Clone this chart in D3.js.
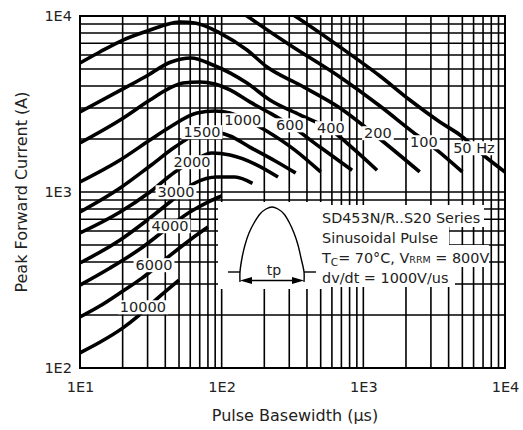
<!DOCTYPE html>
<html><head><meta charset="utf-8">
<script src="https://cdn.jsdelivr.net/npm/d3@7"></script>
<style>
body{margin:0;background:#fff;}
svg{display:block;font-family:"DejaVu Sans",sans-serif;}
</style>
</head><body>
<svg id="c" width="523" height="430"></svg>
<script>
// ---- data ----
const xTicks = [10, 100, 1000, 10000];
const xTickLabels = ["1E1", "1E2", "1E3", "1E4"];
const yTicks = [100, 1000, 10000];
const yTickLabels = ["1E2", "1E3", "1E4"];

const frequencies = ["50 Hz", "100", "200", "400", "600", "1000", "1500", "2000", "3000", "4000", "6000", "10000"];

// [pulse basewidth (us), peak forward current (A)]
const curve50    = [[219,12300],[329,10000],[684,6670],[1310,4560],[2130,3330],[3470,2500],[4810,2110],[7450,1560],[10000,1300]];
const curve100   = [[105,12300],[151,10000],[303,6840],[684,4500],[1310,3080],[2240,2190],[3310,1730],[5000,1300]];
const curve200   = [[10,5410],[13.8,6245],[20.1,7300],[31.2,8330],[39.8,8890],[50.8,9245],[64.8,9125],[97.3,8000],[151,6410],[209,5130],[357,4055],[684,3000],[1310,2000],[2500,1300]];
const curve400   = [[10,2850],[19.5,3800],[28.7,4500],[43.9,5480],[60.7,5770],[86.8,5270],[151,4160],[219,3330],[357,2740],[590,2250],[873,1730],[1250,1330]];
const curve600   = [[10,1900],[19.2,2565],[31.2,3330],[43.2,3900],[53.3,4160],[70.3,4220],[89.6,4110],[114.5,3800],[158,3250],[219,2810],[303,2400],[494,1800],[833,1330]];
const curve1000  = [[10,1140],[19.2,1520],[31.2,1975],[43.2,2340],[66.9,2810],[89.6,2885],[114.5,2810],[146,2600],[202,2250],[329,1730],[500,1300]];
const curve1500  = [[10,770],[19.2,1054],[31.2,1405],[46.8,1800],[64.8,2110],[89.6,2190],[114.5,2080],[158,1800],[239,1500],[333,1282]];
const curve2000  = [[10,585],[19.2,770],[31.2,1000],[46.8,1300],[64.8,1520],[85.4,1665],[114.5,1622],[172,1442],[250,1217]];
const curve3000  = [[10,395],[19.2,534],[31.2,712],[46.8,925],[64.8,1125],[92.7,1217],[124,1217],[165,1120]];
const curve4000  = [[10,296],[16.3,370],[26.5,474],[39.8,608],[59.7,770],[80,877],[100,949]];
const curve6000  = [[10,195],[13.8,225],[20.1,274],[27.4,324],[33.8,370],[41.1,422],[59.7,534],[80,632]];
const curve10000 = [[10,122],[13.8,140],[20.1,169],[25.3,195],[31.2,228],[36.7,256],[50,316]];

const curves = [curve50, curve100, curve200, curve400, curve600, curve1000, curve1500, curve2000, curve3000, curve4000, curve6000, curve10000];

// label anchor for each curve, [us, A]
const labelPos = [[6035,1778],[2678,1923],[1268,2164],[590,2310],[303,2400],[141,2565],[72.6,2193],[61.7,1481],[47.6,1000],[43.2,641],[33.3,385],[27.8,222]];

const insetLines = ["SD453N/R..S20 Series", "Sinusoidal Pulse"];

// ---- drawing ----
const svg = d3.select("#c");
const W = 523, H = 430;
const L = 80, R = 505, T = 16, B = 368;
const x = d3.scaleLog().domain([10, 10000]).range([L, R]);
const y = d3.scaleLog().domain([100, 10000]).range([B, T]);
const ink = "#222";

svg.append("defs").append("clipPath").attr("id", "clip")
  .append("rect").attr("x", L).attr("y", T).attr("width", R - L).attr("height", B - T);

// grid
const grid = svg.append("g").attr("stroke", "#000").attr("stroke-width", 1.6);
grid.selectAll("line.v").data(x.ticks()).join("line").attr("class", "v")
  .attr("x1", d => x(d)).attr("x2", d => x(d)).attr("y1", T).attr("y2", B);
grid.selectAll("line.h").data(y.ticks()).join("line").attr("class", "h")
  .attr("x1", L).attr("x2", R).attr("y1", d => y(d)).attr("y2", d => y(d));
svg.append("rect").attr("x", L).attr("y", T).attr("width", R - L).attr("height", B - T)
  .attr("fill", "none").attr("stroke", "#000").attr("stroke-width", 2);

// curves
const line = d3.line().x(d => x(d[0])).y(d => y(d[1])).curve(d3.curveMonotoneX);
svg.append("g").attr("clip-path", "url(#clip)")
  .selectAll("path").data(curves).join("path")
  .attr("d", line).attr("fill", "none").attr("stroke", "#000")
  .attr("stroke-width", 3.6).attr("stroke-linejoin", "round").attr("stroke-linecap", "butt");

// curve labels with white boxes
const lg = svg.append("g");
frequencies.forEach((f, i) => {
  const g = lg.append("g");
  const t = g.append("text")
    .attr("x", x(labelPos[i][0])).attr("y", y(labelPos[i][1]))
    .attr("dy", "0.36em").attr("text-anchor", "middle")
    .attr("font-size", 14.5).attr("fill", ink).text(f);
  const bb = t.node().getBBox();
  g.insert("rect", "text").attr("x", bb.x - 2).attr("y", bb.y + 1)
    .attr("width", bb.width + 4).attr("height", bb.height - 2).attr("fill", "#fff");
});

// inset
const inset = svg.append("g");
inset.append("rect").attr("x", 218).attr("y", 202).attr("width", 104).attr("height", 87).attr("fill", "#fff");
const baselines = [223, 243, 263, 283];
const ends = [484, 449, 489, 455];
baselines.forEach((b, i) => {
  inset.append("rect").attr("x", 318).attr("y", b - 18).attr("width", ends[i] - 318).attr("height", 22).attr("fill", "#fff");
});
const pulse = [[240,282],[240,272],[242,258],[245,245],[249,233],[254,223],[260,214],[266,209],[272,207],[278,209],[284,214],[289,222],[294,233],[298,245],[301,258],[304,272],[304,282]];
inset.append("path").attr("d", d3.line().curve(d3.curveCatmullRom)(pulse))
  .attr("fill", "none").attr("stroke", "#000").attr("stroke-width", 1.4);
inset.append("line").attr("x1", 228).attr("x2", 240).attr("y1", 272).attr("y2", 272).attr("stroke", "#000").attr("stroke-width", 1.4);
inset.append("line").attr("x1", 304).attr("x2", 316).attr("y1", 272).attr("y2", 272).attr("stroke", "#000").attr("stroke-width", 1.4);
inset.append("line").attr("x1", 246).attr("x2", 298).attr("y1", 280.5).attr("y2", 280.5).attr("stroke", "#000").attr("stroke-width", 1.4);
inset.append("path").attr("d", "M240,280.5 L252,277 L252,284 Z").attr("fill", "#000");
inset.append("path").attr("d", "M304,280.5 L292,277 L292,284 Z").attr("fill", "#000");
inset.append("text").attr("x", 274).attr("y", 275).attr("text-anchor", "middle")
  .attr("font-size", 14).attr("fill", ink).text("tp");

const tx = 322;
inset.append("text").attr("x", tx).attr("y", baselines[0]).attr("font-size", 14.4).attr("fill", ink).text(insetLines[0]);
inset.append("text").attr("x", tx).attr("y", baselines[1]).attr("font-size", 14.4).attr("fill", ink).text(insetLines[1]);
const l3 = inset.append("text").attr("x", tx).attr("y", baselines[2]).attr("font-size", 14.4).attr("fill", ink);
l3.append("tspan").text("T");
l3.append("tspan").attr("font-size", 10.5).attr("dy", 3).text("C");
l3.append("tspan").attr("dy", -3).text("= 70°C, V");
l3.append("tspan").attr("font-size", 9.5).text("RRM");
l3.append("tspan").text(" = 800V");
inset.append("text").attr("x", tx).attr("y", baselines[3]).attr("font-size", 14.4).attr("fill", ink).text("dv/dt = 1000V/us");

// axes
const ax = svg.append("g").attr("transform", `translate(0,${B})`)
  .call(d3.axisBottom(x).tickValues(xTicks).tickFormat((d, i) => xTickLabels[i]).tickSize(0).tickPadding(14));
ax.select(".domain").remove();
ax.selectAll("text").attr("font-size", 14.5).attr("fill", ink).attr("font-family", "DejaVu Sans");

const ay = svg.append("g").attr("transform", `translate(${L},0)`)
  .call(d3.axisLeft(y).tickValues(yTicks).tickFormat((d, i) => yTickLabels[i]).tickSize(0).tickPadding(8));
ay.select(".domain").remove();
ay.selectAll("text").attr("font-size", 14.5).attr("fill", ink).attr("font-family", "DejaVu Sans");

svg.append("text").attr("x", 295).attr("y", 421).attr("text-anchor", "middle")
  .attr("font-size", 16).attr("fill", ink).text("Pulse Basewidth (µs)");
svg.append("text").attr("transform", "translate(27,192) rotate(-90)").attr("text-anchor", "middle")
  .attr("font-size", 16).attr("fill", ink).text("Peak Forward Current (A)");
</script>
</body></html>
